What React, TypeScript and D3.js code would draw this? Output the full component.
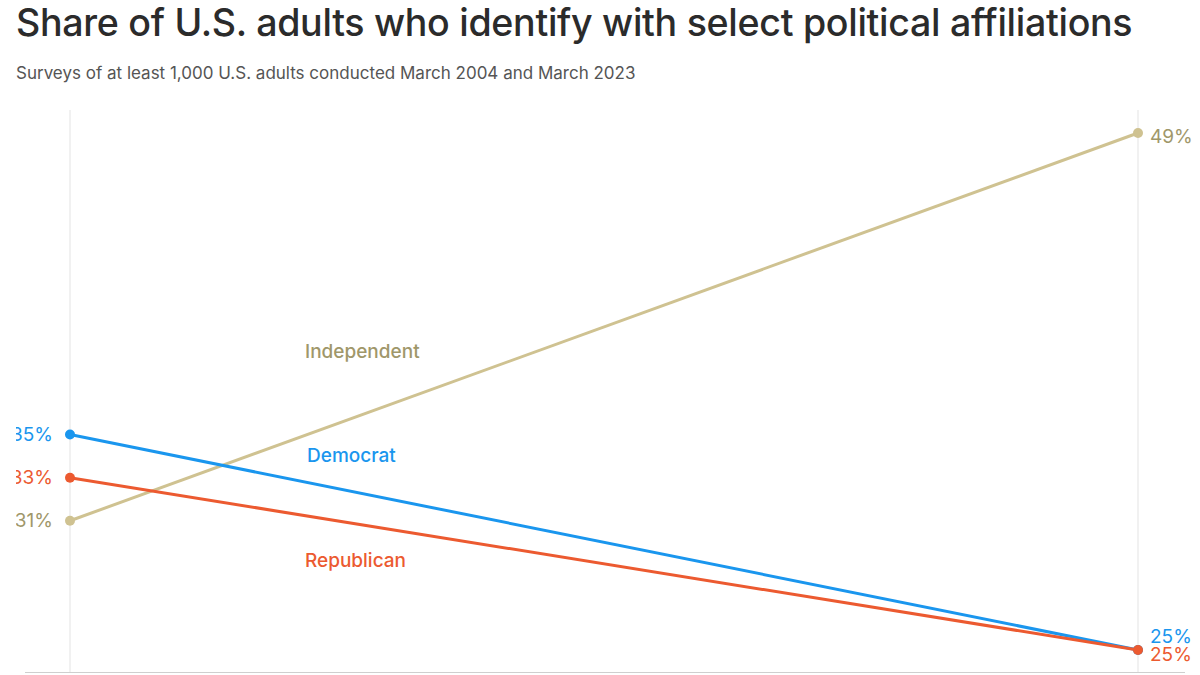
import React from "react";
import * as d3 from "d3";

const years = ["March 2004", "March 2023"];
const seriesNames = ["Independent", "Democrat", "Republican"];
const independent = [31, 49];
const democrat = [35, 25];
const republican = [33, 25];
const lineColors = ["#CFC291", "#1A96EE", "#EC5A30"];
const labelColors = ["#A0976A", "#1A96EE", "#EC5A30"];

const W = 1200;
const H = 675;

export default function App() {
  const values = [independent, democrat, republican];
  const x = d3.scalePoint<string>().domain(years).range([70, 1138]);
  const y = d3.scaleLinear().domain([25, 49]).range([650, 133]);
  const line = d3
    .line<number>()
    .x((_, i) => x(years[i]) as number)
    .y((d) => y(d));

  const font = "'Inter', 'Open Sans', sans-serif";
  const labelPos = [
    { xf: 0.22, v: 38.85 },
    { xf: 0.222, v: 34.05 },
    { xf: 0.22, v: 29.15 },
  ];
  const xl = d3.scaleLinear().domain([0, 1]).range([70, 1138]);

  return (
    <svg
      width={W}
      height={H}
      style={{ position: "absolute", left: 0, top: 0, background: "#fff" }}
      fontFamily={font}
    >
      <defs>
        <clipPath id="leftclip">
          <rect x={16} y={0} width={W} height={H} />
        </clipPath>
      </defs>
      <text x={16} y={36} fontSize={37.6} fill="#2b2b2b" fontWeight={500} letterSpacing={-0.3}>
        Share of U.S. adults who identify with select political affiliations
      </text>
      <text x={16} y={79} fontSize={17} fill="#555">
        Surveys of at least 1,000 U.S. adults conducted March 2004 and March 2023
      </text>
      {years.map((yr) => (
        <line
          key={yr}
          x1={x(yr)}
          x2={x(yr)}
          y1={110}
          y2={672}
          stroke="#e3e3e3"
          strokeWidth={1}
        />
      ))}
      <line x1={25} x2={1185} y1={672.5} y2={672.5} stroke="#cfcfcf" strokeWidth={1} />
      {values.map((vals, si) => (
        <g key={seriesNames[si]}>
          <path d={line(vals) || ""} fill="none" stroke={lineColors[si]} strokeWidth={3} />
          {vals.map((v, i) => (
            <circle key={i} cx={x(years[i])} cy={y(v)} r={5} fill={lineColors[si]} />
          ))}
          <text
            x={(x(years[0]) as number) - 17}
            y={y(vals[0])}
            dy="0.35em"
            textAnchor="end"
            fontSize={19}
            fill={labelColors[si]}
            clipPath="url(#leftclip)"
          >
            {vals[0]}%
          </text>
          <text
            x={(x(years[1]) as number) + 12}
            y={y(vals[1]) + (si === 1 ? -14 : si === 2 ? 4 : 3)}
            dy="0.35em"
            textAnchor="start"
            fontSize={19}
            fill={labelColors[si]}
          >
            {vals[1]}%
          </text>
          <text
            x={xl(labelPos[si].xf)}
            y={y(labelPos[si].v)}
            dy="0.35em"
            fontSize={19}
            fill={labelColors[si]}
            fontWeight={500}
          >
            {seriesNames[si]}
          </text>
        </g>
      ))}
    </svg>
  );
}
